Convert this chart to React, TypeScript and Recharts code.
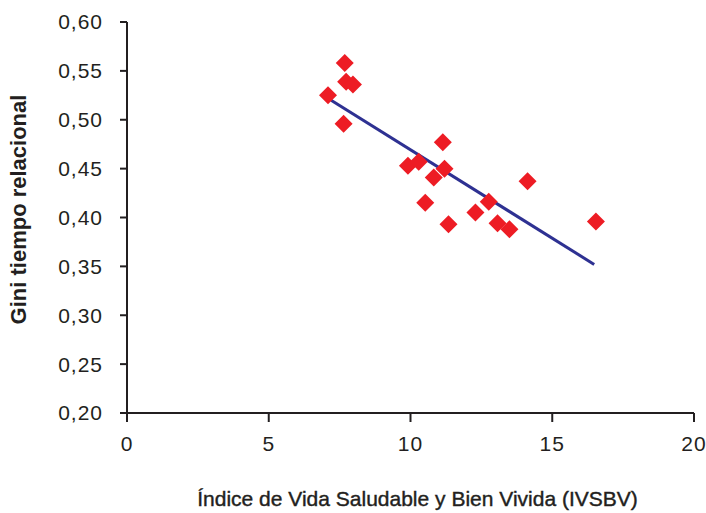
import { ScatterChart, Scatter, XAxis, YAxis } from "recharts"

const ivsbv = [7.68, 7.73, 7.97, 7.09, 7.64, 11.14, 9.91, 10.29, 11.2, 10.82, 14.13, 10.52, 12.76, 12.29, 11.34, 13.07, 13.49, 16.54]
const gini = [0.558, 0.539, 0.536, 0.525, 0.496, 0.477, 0.453, 0.457, 0.45, 0.441, 0.437, 0.415, 0.416, 0.405, 0.393, 0.394, 0.388, 0.396]

const trendX = [7.2, 16.48]
const trendY = [0.52, 0.352]

const xTicks = [0, 5, 10, 15, 20]
const yTicks = [0.2, 0.25, 0.3, 0.35, 0.4, 0.45, 0.5, 0.55, 0.6]

const points = ivsbv.map((x, i) => ({ x, y: gini[i] }))
const trend = trendX.map((x, i) => ({ x, y: trendY[i] }))

const font = "'Liberation Sans', Arial, sans-serif"
const ink = "#231f20"

const Diamond = (props: any) => {
  const { cx, cy } = props
  const r = 9
  return (
    <polygon
      points={`${cx},${cy - r} ${cx + r},${cy} ${cx},${cy + r} ${cx - r},${cy}`}
      fill="#ed1c24"
    />
  )
}

const YLabel = (props: any) => {
  const { viewBox } = props
  const cx = 18
  const cy = viewBox.y + viewBox.height / 2 - 8
  return (
    <text
      x={cx}
      y={cy}
      transform={`rotate(-90, ${cx}, ${cy})`}
      textAnchor="middle"
      dominantBaseline="central"
      fill={ink}
      fontSize={22}
      fontWeight="bold"
      fontFamily={font}
    >
      Gini tiempo relacional
    </text>
  )
}

export default function App() {
  return (
    <div style={{ position: "absolute", left: 0, top: 0, background: "#fff" }}>
      <ScatterChart width={706} height={513} margin={{ top: 22, right: 12, left: 0, bottom: 0 }}>
        <XAxis
          type="number"
          dataKey="x"
          domain={[0, 20]}
          ticks={xTicks}
          height={100}
          stroke={ink}
          strokeWidth={2}
          tickSize={9}
          tickMargin={14}
          tick={{ fill: ink, fontSize: 21, fontFamily: font, letterSpacing: 1 }}
          label={{
            value: "Índice de Vida Saludable y Bien Vivida (IVSBV)",
            position: "insideBottom",
            offset: 7,
            fill: ink,
            fontSize: 21,
            fontFamily: font,
            stroke: ink,
            strokeWidth: 0.4,
            dx: 7,
          }}
        />
        <YAxis
          type="number"
          dataKey="y"
          domain={[0.2, 0.6]}
          ticks={yTicks}
          width={127}
          stroke={ink}
          strokeWidth={2}
          tickSize={7}
          tickMargin={17}
          tickFormatter={(v: number) => v.toFixed(2).replace(".", ",")}
          tick={{ fill: ink, fontSize: 21, fontFamily: font, letterSpacing: 1 }}
          label={<YLabel />}
        />
        <Scatter
          data={trend}
          line={{ stroke: "#2e3192", strokeWidth: 3 }}
          shape={() => null}
          isAnimationActive={false}
        />
        <Scatter data={points} shape={Diamond} isAnimationActive={false} />
      </ScatterChart>
    </div>
  )
}
